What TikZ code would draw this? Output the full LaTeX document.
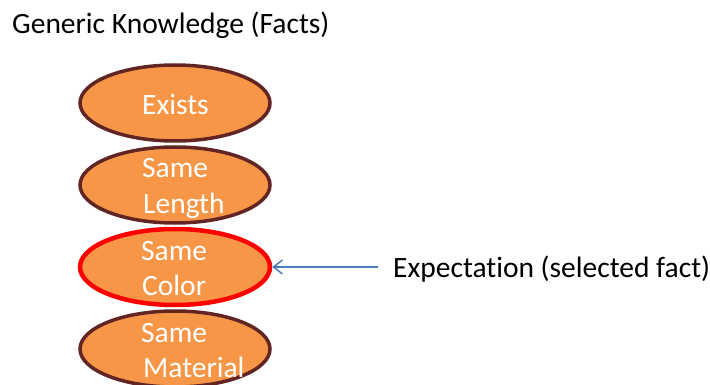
\documentclass[tikz,border=0pt]{standalone}
\usepackage{fontspec}
\setmainfont{Carlito}[Ligatures=NoCommon]
\usetikzlibrary{shapes.geometric,arrows.meta}
\definecolor{factfill}{HTML}{F79646}
\definecolor{factline}{HTML}{632523}
\definecolor{selline}{HTML}{FF0000}
\definecolor{arrowblue}{HTML}{4A7EBB}
\begin{document}
\begin{tikzpicture}[x=1pt,y=-1pt,
  fact/.style={ellipse, draw=factline, fill=factfill, line width=3.5pt,
    minimum width=190pt, minimum height=76pt, inner sep=0pt},
  selected/.style={fact, draw=selline, line width=4.5pt},
  facttext/.style={text=white, font=\fontsize{29.5}{35}\selectfont, inner sep=0pt, align=left},
  plaintext/.style={text=black, font=\fontsize{29.5}{35}\selectfont, inner sep=0pt},
  pointer/.style={draw=arrowblue, line width=1.5pt, -{Straight Barb[length=9pt,width=14pt]}}]
\useasboundingbox (0,0) rectangle (710,385);
\node[plaintext, anchor=base west] (title) at (12,34) {Generic Knowledge (Facts)};
\node[fact] (exists) at (175,103) {};
\node[fact] (length) at (175,185) {};
\node[selected] (color) at (175,267) {};
\node[fact] (material) at (175,349) {};
\node[facttext, anchor=base] (texists) at (175.5,115) {Exists};
\node[facttext, anchor=base west] (tlength1) at (142,178) {Same};
\node[facttext, anchor=base west] (tlength2) at (143,213) {Length};
\node[facttext, anchor=base west] (tcolor1) at (141,260) {Same};
\node[facttext, anchor=base west] (tcolor2) at (142,295) {Color};
\node[facttext, anchor=base west] (tmat1) at (141,342) {Same};
\node[facttext, anchor=base west] (tmat2) at (143,377) {Material};
\node[plaintext, anchor=base west] (expect) at (393,277) {Expectation (selected fact)};
\coordinate (astart) at (378,267);
\draw[pointer] (astart) -- (color.east);
\end{tikzpicture}
\end{document}
